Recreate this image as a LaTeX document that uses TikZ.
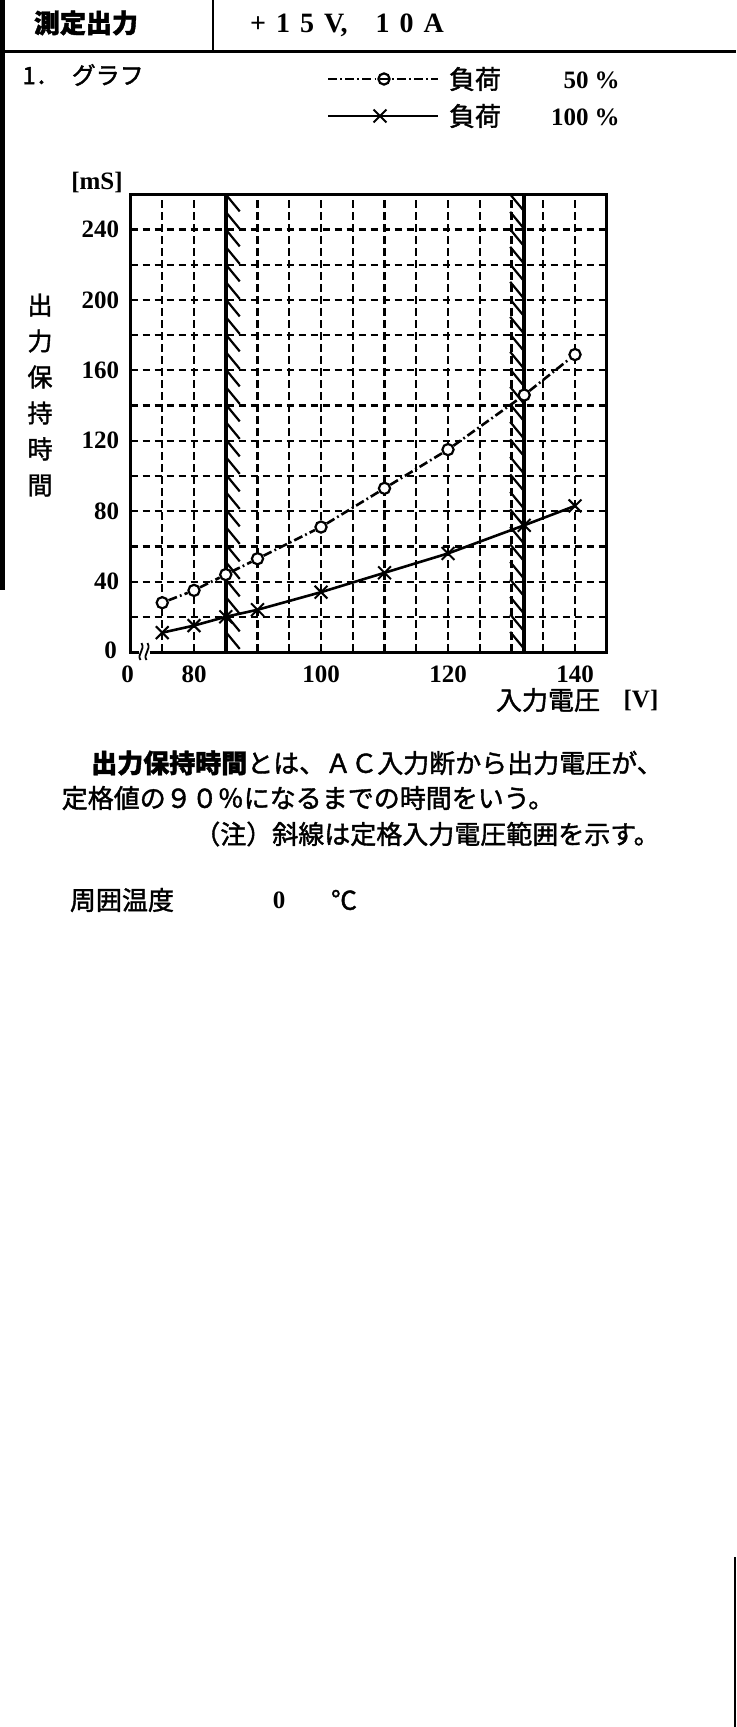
\documentclass[tikz,border=0pt]{standalone}
\usepackage{fontspec}
\usepackage{tikz}
\usetikzlibrary{shapes.misc}
\newfontfamily\jpfont[FakeBold=1.5]{Noto Sans CJK JP}
\newfontfamily\numfont{Liberation Serif}
\tikzset{
  gridline/.style={line width=1.1pt,dash pattern=on 3.8pt off 2.2pt},
  frameline/.style={line width=1.5pt},
  rangeline/.style={line width=1.8pt},
  hatchstroke/.style={line width=1.1pt},
  halfload/.style={line width=1.3pt,dash pattern=on 4.5pt off 1.6pt on 0.9pt off 1.6pt},
  fullload/.style={line width=1.3pt},
  ringmark/.style={circle,draw,line width=1.1pt,inner sep=0pt,minimum size=5.6pt},
  crossmark/.style={cross out,draw,line width=1pt,inner sep=0pt,minimum size=5.4pt},
  jptext/.style={font=\jpfont\fontsize{13}{15}\selectfont,inner sep=0pt},
  jpbold/.style={font=\jpfont\bfseries\fontsize{13}{15}\selectfont,inner sep=0pt},
  numtext/.style={font=\numfont\bfseries\fontsize{12.5}{14}\selectfont,inner sep=0pt}
}

\begin{document}
\begin{tikzpicture}[x=0.5pt,y=-0.5pt]
\useasboundingbox (0,0) rectangle (736,1727);
\pgfmathsetmacro{\vstep}{6.35}
\pgfmathsetmacro{\mstep}{1.76}
\pgfmathsetmacro{\plotw}{75*\vstep}
\pgfmathsetmacro{\ploth}{260*\mstep}

\draw[line width=2.5pt] (2.5,0) -- (2.5,590);
\draw[line width=1.5pt] (0,52) -- (736,52);
\draw[line width=1pt] (213,0) -- (213,52);
\draw[line width=0.8pt] (735,1557) -- (735,1727);
\node[jpbold] (outlabel) at (86,23) {測定出力};
\node[numtext,font=\numfont\bfseries\fontsize{14}{16}\selectfont] (outvalue) at (347,25) {+\hspace{5pt}1\hspace{5pt}5\hspace{5pt}V,\hspace{14pt}1\hspace{5pt}0\hspace{5pt}A};
\node[jptext,anchor=west,font=\jpfont\fontsize{12}{14}\selectfont] (graphtitle) at (22,75) {1．\hspace{6pt}グラフ};

\coordinate (halfa) at (328,79);
\coordinate (halfb) at (438,79);
\draw[halfload] (halfa) -- (halfb);
\node[ringmark] (halfkey) at (384,79) {};
\node[jptext] (halftext) at (475,79) {負荷};
\node[numtext,anchor=east] (halfnum) at (589,80) {50};
\node[numtext] (halfpct) at (607,80) {\%};
\coordinate (fulla) at (328,116);
\coordinate (fullb) at (438,116);
\draw[fullload] (fulla) -- (fullb);
\node[crossmark] (fullkey) at (380,116) {};
\node[jptext] (fulltext) at (475,116) {負荷};
\node[numtext,anchor=east] (fullnum) at (589,117) {100};
\node[numtext] (fullpct) at (607,117) {\%};

\node[numtext] (munit) at (97,183) {[mS]};
\node[jptext,align=center,font=\jpfont\fontsize{12.5}{18}\selectfont] (ytitle) at (40,395) {出\\力\\保\\持\\時\\間};
\node[jptext] (xtitle) at (548,700) {入力電圧};
\node[numtext] (xunit) at (641,700) {[V]};

\begin{scope}[shift={(130.5,652)}]
\foreach \v in {75,80,90,95,100,105,110,115,120,125,130,135,140}
	\draw[gridline] ({(\v-70)*\vstep},0) -- ({(\v-70)*\vstep},{-\ploth});
\foreach \m in {20,40,...,240}
	\draw[gridline] (0,{-\m*\mstep}) -- (\plotw,{-\m*\mstep});
\foreach \m in {40,80,...,240}
	\node[numtext,anchor=east] (ylab\m) at (-11,{-\m*\mstep}) {\m};
\node[numtext] (ylab0) at (-20,-2) {0};
\node[numtext] (xlab0) at (-3,22) {0};
\foreach \v in {80,100,120,140}
	\node[numtext] (xlab\v) at ({(\v-70)*\vstep},22) {\v};

\draw[rangeline] ({15*\vstep},0) -- ({15*\vstep},{-\ploth});
\draw[rangeline] ({62*\vstep},0) -- ({62*\vstep},{-\ploth});
\foreach \k in {0,...,25}{
	\draw[hatchstroke] ({15*\vstep},{-\ploth+\k*17.5}) -- ++(14,17);
	\draw[hatchstroke] ({62*\vstep-14},{-\ploth+\k*17.5}) -- ++(14,17);
}

\draw[frameline] (19,0) -- (\plotw,0) -- (\plotw,{-\ploth}) -- (0,{-\ploth}) -- (0,0) -- (8,0);
\draw[line width=0.9pt] (10,8) .. controls (6,2) and (15,-2) .. (11,-9);
\draw[line width=0.9pt] (16,8) .. controls (12,2) and (21,-2) .. (17,-9);

\foreach \v/\m in {75/28,80/35,85/44,90/53,100/71,110/93,120/115,132/146,140/169}
	\node[ringmark,fill=white] (half\v) at ({(\v-70)*\vstep},{-\m*\mstep}) {};
\draw[halfload] (half75) -- (half80) -- (half85) -- (half90) -- (half100) -- (half110) -- (half120) -- (half132) -- (half140);
\foreach \v/\m in {75/11,80/15,85/20,90/24,100/34,110/45,120/56,132/72,140/83}
	\node[crossmark] (full\v) at ({(\v-70)*\vstep},{-\m*\mstep}) {};
\draw[fullload] (full75.center) -- (full80.center) -- (full85.center) -- (full90.center) -- (full100.center) -- (full110.center) -- (full120.center) -- (full132.center) -- (full140.center);
\end{scope}

\node[jptext] (defline1) at (377,763) {{\bfseries 出力保持時間}とは、ＡＣ入力断から出力電圧が、};
\node[jptext] (defline2) at (308,798) {定格値の９０％になるまでの時間をいう。};
\node[jptext] (noteline) at (427,834) {（注）斜線は定格入力電圧範囲を示す。};
\node[jptext] (templabel) at (122,900) {周囲温度};
\node[numtext] (tempvalue) at (279,900) {0};
\node[jptext] (tempunit) at (344,900) {℃};
\end{tikzpicture}
\end{document}
